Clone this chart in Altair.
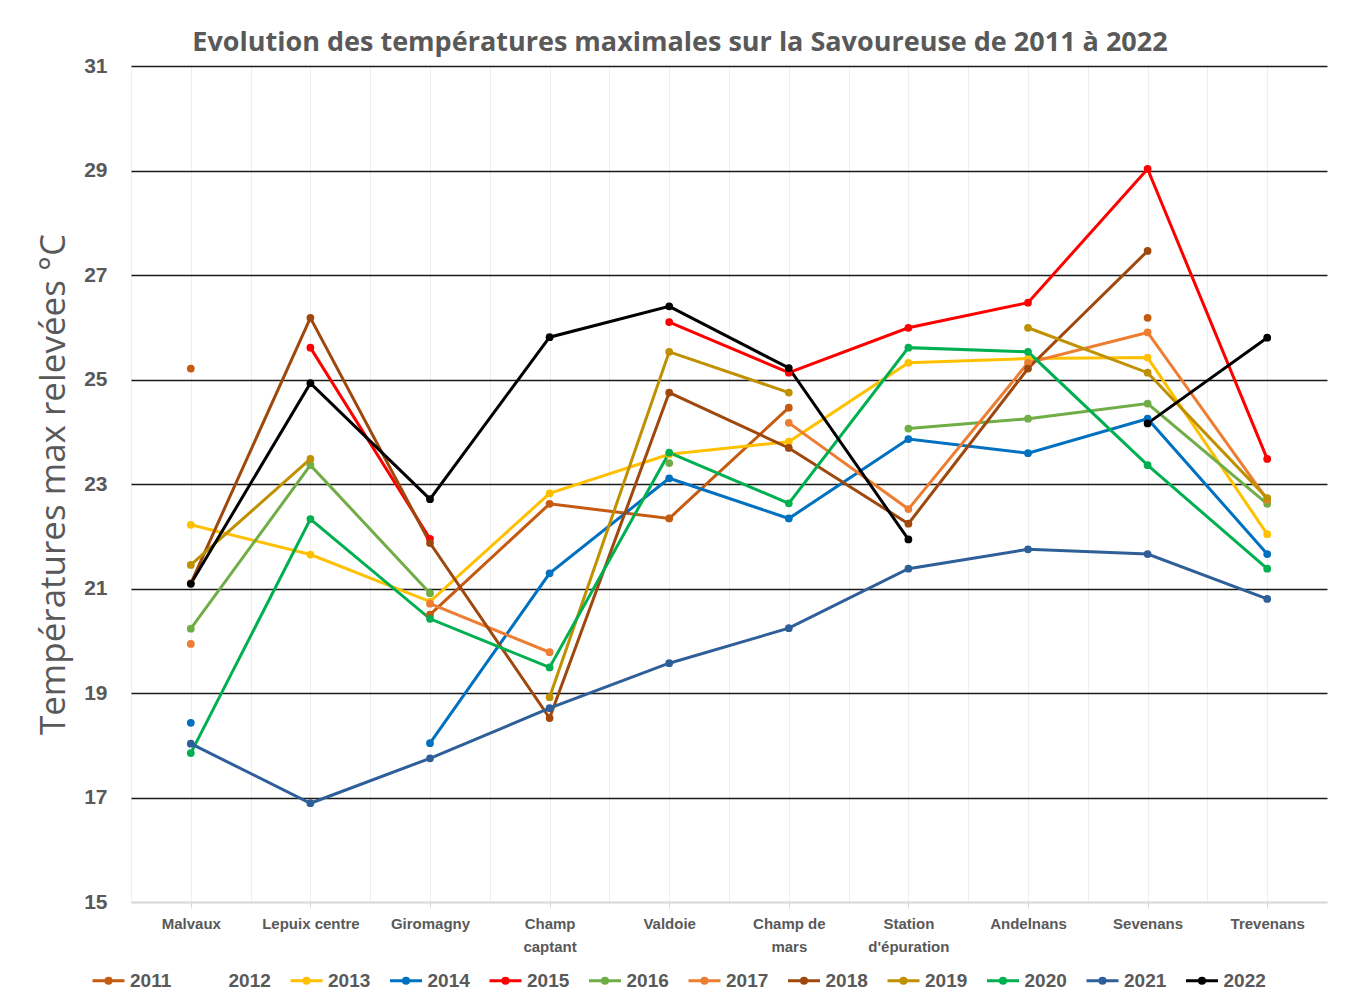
import altair as alt
import pandas as pd

FONT = "Liberation Sans"
GREY = "#595959"

sites = ["Malvaux", "Lepuix centre", "Giromagny", "Champ captant", "Valdoie",
         "Champ de mars", "Station d'épuration", "Andelnans", "Sevenans", "Trevenans"]

years = ["2011", "2012", "2013", "2014", "2015", "2016", "2017", "2018", "2019", "2020", "2021", "2022"]
colors = ["#C55A11", "#FFFFFF", "#FFC000", "#0070C0", "#FF0000", "#70AD47",
          "#ED7D31", "#9E480E", "#BF9000", "#00B050", "#2F5F98", "#000000"]

t2011 = [25.21, None, 20.50, 22.62, 22.34, 24.46, None, None, 26.18, None]
t2012 = [None, None, None, None, None, None, None, None, None, None]
t2013 = [22.22, 21.65, 20.75, 22.82, 23.57, 23.81, 25.32, 25.40, 25.42, 22.04]
t2014 = [18.43, None, 18.04, 21.29, 23.11, 22.34, 23.86, 23.59, 24.25, 21.66]
t2015 = [None, 25.61, 21.95, None, 26.10, 25.13, 25.99, 26.47, 29.03, 23.48]
t2016 = [20.23, 23.36, 20.91, None, 23.40, None, 24.06, 24.25, 24.54, 22.62]
t2017 = [19.94, None, 20.71, 19.78, None, 24.17, 22.52, 25.32, 25.90, 22.70]
t2018 = [21.10, 26.18, 21.87, 18.52, 24.75, 23.69, 22.24, 25.21, 27.46, None]
t2019 = [21.45, 23.48, None, 18.92, 25.53, 24.75, None, 25.99, 25.13, 22.73]
t2020 = [17.85, 22.33, 20.42, 19.49, 23.60, 22.63, 25.61, 25.53, 23.36, 21.38]
t2021 = [18.03, 16.89, 17.75, 18.71, 19.57, 20.24, 21.38, 21.75, 21.66, 20.80]
t2022 = [21.09, 24.93, 22.71, 25.81, 26.40, 25.22, 21.94, None, 24.16, 25.80]

series = [t2011, t2012, t2013, t2014, t2015, t2016, t2017, t2018, t2019, t2020, t2021, t2022]
y_ticks = [15, 17, 19, 21, 23, 25, 27, 29, 31]

rows = []
for yr, vals in zip(years, series):
    for i, (s, v) in enumerate(zip(sites, vals)):
        rows.append({"annee": yr, "site": s, "idx": i, "temp": v})
df = pd.DataFrame(rows)

label_expr = ("datum.label == 'Champ captant' ? ['Champ', 'captant'] : "
              "datum.label == 'Champ de mars' ? ['Champ de', 'mars'] : "
              "datum.label == \"Station d'épuration\" ? ['Station', \"d'épuration\"] : datum.label")

legend_path = "M-1,0L1,0M-0.16,0a0.16,0.16 0 1,0 0.32,0a0.16,0.16 0 1,0 -0.32,0"

color_scale = alt.Scale(domain=years, range=colors)
y_scale = alt.Scale(domain=[15, 31], nice=False, zero=False)

x_main = alt.X("site:N", sort=sites, scale=alt.Scale(type="point", padding=0.5),
               axis=alt.Axis(title=None, orient="bottom", labelFontSize=15, labelFontWeight="bold",
                             labelColor=GREY, labelFont=FONT, labelAngle=0, labelPadding=8,
                             labelLineHeight=23, labelExpr=label_expr, grid=True,
                             gridColor="#EFEFEF", gridWidth=1, domainColor="#D9D9D9",
                             domainWidth=2, tickColor="#D9D9D9", tickSize=6))

x_grid = alt.X("site:N", sort=sites, scale=alt.Scale(type="point", padding=0.5),
               axis=alt.Axis(title=None, orient="top", labels=False, ticks=False, domain=False,
                             grid=True, gridColor="#EFEFEF", gridWidth=1, tickOffset=-59.8))

y_axis = alt.Axis(values=y_ticks, title="Températures max relevées °C",
                  titleFontSize=35, titleFontWeight="normal", titleColor=GREY,
                  titleFont="Open Sans", titlePadding=12, labelFontSize=21,
                  labelFontWeight="bold", labelColor=GREY, labelFont=FONT,
                  labelPadding=24, domain=False, ticks=False,
                  gridColor={"condition": {"test": "datum.value === 15", "value": "#D9D9D9"},
                             "value": "#1A1A1A"},
                  gridWidth=1.3)

lines = alt.Chart(df).mark_line(strokeWidth=3, invalid="break-paths-show-domains").encode(
    x=x_main,
    y=alt.Y("temp:Q", scale=y_scale, axis=y_axis),
    order=alt.Order("idx:Q"),
    color=alt.Color("annee:N", scale=color_scale,
                    legend=alt.Legend(title=None, orient="none", legendX=-40, legendY=897,
                                      direction="horizontal", columns=12, symbolType=legend_path,
                                      symbolSize=1024, symbolStrokeWidth=3, labelFontSize=19,
                                      labelFontWeight="bold", labelColor=GREY, labelFont=FONT,
                                      columnPadding=12.5, labelOffset=4)),
)

points = alt.Chart(df).transform_filter("isValid(datum.temp)").mark_point(
    filled=True, size=60, opacity=1).encode(
    x=x_grid,
    y=alt.Y("temp:Q", scale=y_scale, axis=y_axis),
    color=alt.Color("annee:N", scale=color_scale, legend=None),
)

chart = alt.layer(lines, points).resolve_axis(x="independent").properties(
    width=1196, height=836,
    autosize="none",
    padding={"left": 123, "top": 58, "right": 5, "bottom": 92},
    title=alt.TitleParams("Evolution des températures maximales sur la Savoureuse de 2011 à 2022",
                          fontSize=27, font="Open Sans", fontWeight="bold", color=GREY,
                          dx=-49, offset=-2),
).configure_view(strokeWidth=0)

chart.save("out.html", embed_options={"renderer": "svg", "actions": False})
